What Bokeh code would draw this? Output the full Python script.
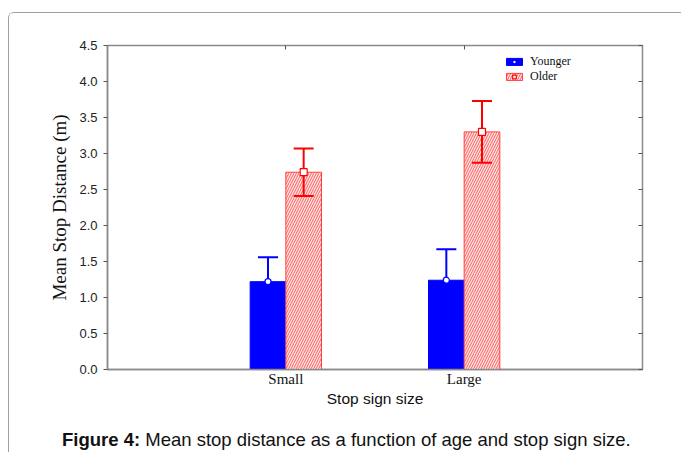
from bokeh.plotting import figure
from bokeh.layouts import column
from bokeh.models import (ColumnDataSource, FactorRange, LinearAxis, CategoricalAxis,
                          SingleIntervalTicker, PrintfTickFormatter, Legend, LegendItem,
                          Range1d, Div, CustomLabelingPolicy)
from bokeh.transform import dodge
from bokeh.embed import file_html
from bokeh.resources import INLINE

# ---- data ----
sizes = ["Small", "Large"]
younger_mean = [1.22, 1.24]
younger_err = [0.34, 0.43]
older_mean = [2.74, 3.30]
older_err = [0.33, 0.43]
y_max = 4.5
y_step = 0.5

src = ColumnDataSource(dict(
    size=sizes,
    ym=younger_mean,
    yu=[m + e for m, e in zip(younger_mean, younger_err)],
    om=older_mean,
    ou=[m + e for m, e in zip(older_mean, older_err)],
    ol=[m - e for m, e in zip(older_mean, older_err)],
))

BLUE = "#0000ff"
RED = "#ff0000"
GRAY = "#8a8a8a"

p = figure(width=670, height=400,
           x_range=FactorRange(*sizes, range_padding=0.5, range_padding_units="absolute"),
           y_range=Range1d(0, y_max),
           output_backend="svg", toolbar_location=None,
           min_border_left=98, min_border_right=37, min_border_top=32, min_border_bottom=44)

p.xgrid.grid_line_color = None
p.ygrid.grid_line_color = None
p.outline_line_color = GRAY
p.outline_line_width = 1.5
p.outline_line_alpha = 1.0

no_labels = CustomLabelingPolicy(code="for (const i of indices) { indices.unset(i) }\nreturn indices")

# bottom axis
xa = p.xaxis[0]
xa.major_tick_in = 0
xa.major_tick_out = 0
xa.axis_line_color = GRAY
xa.axis_line_width = 1.5
xa.major_label_text_font = "Liberation Serif"
xa.major_label_text_font_size = "15px"
xa.major_label_text_color = "#111111"
xa.major_label_standoff = 1
xa.axis_label = "Stop sign size"
xa.axis_label_text_font = "Liberation Sans"
xa.axis_label_text_font_size = "15.5px"
xa.axis_label_text_font_style = "normal"
xa.axis_label_text_color = "#111111"
xa.axis_label_standoff = 0

# left axis
ya = p.yaxis[0]
ya.ticker = SingleIntervalTicker(interval=y_step, num_minor_ticks=0)
ya.formatter = PrintfTickFormatter(format="%.1f")
ya.major_tick_out = 4
ya.major_tick_in = 0
ya.minor_tick_out = 0
ya.minor_tick_in = 0
ya.axis_line_color = GRAY
ya.axis_line_width = 1.5
ya.major_tick_line_color = "#555555"
ya.major_label_text_font = "Liberation Sans"
ya.major_label_text_font_size = "13px"
ya.major_label_text_color = "#222222"
ya.major_label_standoff = 6
ya.axis_label = "Mean Stop Distance (m)"
ya.axis_label_text_font = "Liberation Serif"
ya.axis_label_text_font_size = "19px"
ya.axis_label_text_font_style = "normal"
ya.axis_label_text_color = "#111111"
ya.axis_label_standoff = 6

# right axis (inward ticks, no labels)
ra = LinearAxis(ticker=SingleIntervalTicker(interval=y_step, num_minor_ticks=0),
                major_tick_in=4, major_tick_out=0, minor_tick_in=0, minor_tick_out=0,
                major_label_policy=no_labels, major_label_text_font_size="8px",
                axis_line_color=None, major_tick_line_color="#555555",
                major_label_standoff=0)
p.add_layout(ra, "right")

# top axis (inward ticks at categories, no labels)
ta = CategoricalAxis(major_tick_in=4, major_tick_out=0,
                     major_label_policy=no_labels, major_label_text_font_size="8px",
                     axis_line_color=None, major_tick_line_color="#555555",
                     major_label_standoff=0)
p.add_layout(ta, "above")

# bars
yb = p.vbar(x=dodge("size", -0.1, range=p.x_range), top="ym", width=0.2, source=src,
            fill_color=BLUE, line_color=BLUE, line_width=1)
ob = p.vbar(x=dodge("size", 0.1, range=p.x_range), top="om", width=0.2, source=src,
            fill_color="#ffe4e4", line_color="#ff4040", line_width=1,
            hatch_pattern="/", hatch_color="#ff3a3a", hatch_scale=5,
            hatch_weight=1, hatch_alpha=0.8)

# error bars
p.segment(x0=dodge("size", -0.1, range=p.x_range), y0="ym",
          x1=dodge("size", -0.1, range=p.x_range), y1="yu",
          source=src, line_color=BLUE, line_width=2)
p.scatter(x=dodge("size", -0.1, range=p.x_range), y="yu", marker="dash", size=20,
          source=src, line_color=BLUE, line_width=2)
p.segment(x0=dodge("size", 0.1, range=p.x_range), y0="ol",
          x1=dodge("size", 0.1, range=p.x_range), y1="ou",
          source=src, line_color=RED, line_width=2)
p.scatter(x=dodge("size", 0.1, range=p.x_range), y="ou", marker="dash", size=20,
          source=src, line_color=RED, line_width=2)
p.scatter(x=dodge("size", 0.1, range=p.x_range), y="ol", marker="dash", size=20,
          source=src, line_color=RED, line_width=2)

# mean markers
ymk = p.scatter(x=dodge("size", -0.1, range=p.x_range), y="ym", marker="circle", size=6,
                source=src, fill_color="white", line_color=BLUE, line_width=1.2)
omk = p.scatter(x=dodge("size", 0.1, range=p.x_range), y="om", marker="square", size=7,
                source=src, fill_color="white", line_color=RED, line_width=1.2)

legend = Legend(items=[LegendItem(label="Younger", renderers=[yb, ymk]),
                       LegendItem(label="Older", renderers=[ob, omk])],
                location=(397, 285), orientation="vertical", padding=0, margin=0,
                spacing=0, glyph_width=20, glyph_height=9, label_height=9,
                label_standoff=6, label_text_font="Liberation Serif",
                label_text_font_size="12px", label_text_baseline="middle",
                label_text_color="#111111",
                border_line_color=None, background_fill_alpha=0)
p.add_layout(legend)

caption = Div(text="<b>Figure 4:</b> Mean stop distance as a function of age and stop sign size.",
              width=670, height=36,
              styles={"font-family": "'Liberation Sans', Arial, sans-serif",
                      "font-size": "18.5px", "color": "#111111",
                      "padding-left": "48px", "padding-top": "11px",
                      "white-space": "nowrap", "line-height": "21px",
                      "box-sizing": "border-box"})

layout = column(p, caption,
                styles={"margin-left": "8px", "margin-top": "12px",
                        "border-left": "1px solid #a0a0a0",
                        "border-top": "1px solid #a0a0a0",
                        "border-top-left-radius": "6px"})

open("out.html", "w").write(file_html(layout, INLINE))
